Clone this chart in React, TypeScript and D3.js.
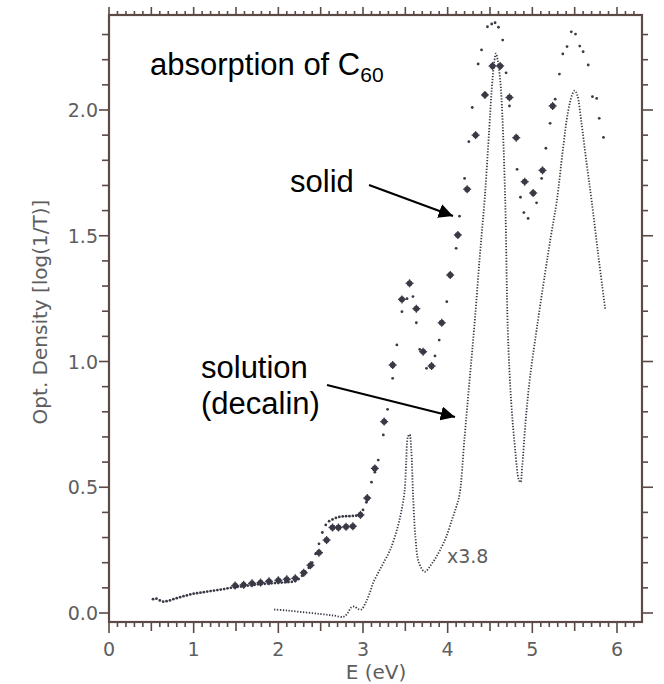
import React from 'react';
import * as d3 from 'd3';

// solution (decalin) spectrum, scaled x3.8: [E (eV), OD]
const solutionCurve: [number, number][] = [
  [1.95, 0.014], [2.1, 0.01], [2.3, 0.003], [2.5, -0.004], [2.65, -0.01], [2.77, -0.015],
  [2.82, 0.0], [2.86, 0.022], [2.9, 0.026], [2.94, 0.016], [2.98, 0.014], [3.03, 0.04],
  [3.08, 0.08], [3.12, 0.12], [3.18, 0.16], [3.24, 0.198], [3.32, 0.25], [3.4, 0.33],
  [3.45, 0.4], [3.49, 0.48], [3.51, 0.6], [3.53, 0.7], [3.55, 0.71], [3.57, 0.65],
  [3.59, 0.48], [3.62, 0.3], [3.66, 0.2], [3.73, 0.164], [3.8, 0.19], [3.86, 0.22],
  [3.91, 0.25], [3.98, 0.3], [4.05, 0.37], [4.1, 0.42], [4.14, 0.47], [4.2, 0.7],
  [4.26, 0.93], [4.32, 1.16], [4.38, 1.42], [4.44, 1.66], [4.49, 1.92], [4.52, 2.08],
  [4.55, 2.19], [4.57, 2.225], [4.59, 2.2], [4.62, 2.12], [4.64, 2.02], [4.68, 1.64],
  [4.71, 1.13], [4.75, 0.84], [4.8, 0.64], [4.84, 0.53], [4.86, 0.52], [4.88, 0.58],
  [4.92, 0.76], [4.97, 0.93], [5.05, 1.125], [5.15, 1.35], [5.22, 1.5], [5.29, 1.64],
  [5.36, 1.84], [5.42, 1.99], [5.47, 2.06], [5.5, 2.077], [5.53, 2.06], [5.58, 1.95],
  [5.64, 1.79], [5.7, 1.64], [5.78, 1.42], [5.86, 1.21],
];

// solid film, fine sampling (small dots)
const solidFine: [number, number][] = [
  [0.52, 0.055], [0.56, 0.057], [0.6, 0.05], [0.64, 0.045], [0.68, 0.047], [0.72, 0.05],
  [0.76, 0.055], [0.8, 0.059], [0.84, 0.063], [0.88, 0.067], [0.92, 0.07], [0.96, 0.074],
  [1.0, 0.077], [1.04, 0.079], [1.08, 0.081], [1.12, 0.083], [1.16, 0.085], [1.2, 0.087],
  [1.24, 0.089], [1.28, 0.091], [1.32, 0.093], [1.36, 0.095], [1.4, 0.098], [1.44, 0.1],
  [1.48, 0.102], [1.52, 0.104], [1.56, 0.105], [1.6, 0.107], [1.64, 0.109], [1.68, 0.11],
  [1.72, 0.112], [1.76, 0.114], [1.8, 0.115], [1.84, 0.116], [1.88, 0.117], [1.92, 0.118],
  [1.96, 0.119], [2.0, 0.12], [2.04, 0.121], [2.08, 0.122], [2.12, 0.123], [2.16, 0.124],
  [2.2, 0.127], [2.24, 0.135], [2.28, 0.148], [2.32, 0.163], [2.36, 0.18], [2.4, 0.2],
  [2.44, 0.235], [2.48, 0.275], [2.52, 0.32], [2.56, 0.35], [2.6, 0.365], [2.64, 0.372],
  [2.68, 0.378], [2.72, 0.382], [2.76, 0.384], [2.8, 0.385], [2.84, 0.385], [2.88, 0.386],
  [2.92, 0.387], [2.96, 0.39], [3.0, 0.41], [3.04, 0.44], [3.1, 0.52], [3.14, 0.56],
  [3.18, 0.608], [3.24, 0.708], [3.29, 0.81], [3.35, 0.933], [3.4, 1.066], [3.46, 1.198],
  [3.52, 1.25], [3.59, 1.258], [3.63, 1.154], [3.67, 1.048], [3.75, 0.973], [3.85, 1.022],
  [3.9, 1.085], [3.99, 1.238], [4.03, 1.35], [4.1, 1.45], [4.14, 1.578], [4.2, 1.728],
  [4.25, 1.874], [4.29, 2.01], [4.36, 2.183], [4.4, 2.239], [4.47, 2.331], [4.52, 2.342],
  [4.56, 2.347], [4.6, 2.329], [4.65, 2.278], [4.69, 2.148], [4.73, 2.016], [4.82, 1.764],
  [4.86, 1.653], [4.9, 1.592], [4.95, 1.569], [5.05, 1.631], [5.11, 1.728], [5.16, 1.848],
  [5.21, 1.947], [5.27, 2.043], [5.32, 2.143], [5.36, 2.223], [5.41, 2.252], [5.46, 2.311],
  [5.51, 2.302], [5.56, 2.254], [5.6, 2.232], [5.66, 2.179], [5.71, 2.053], [5.76, 2.046],
  [5.79, 1.967], [5.84, 1.891],
];

// solid film, coarse sampling (bold markers)
const solidBold: [number, number][] = [
  [1.49, 0.109], [1.59, 0.112], [1.69, 0.118], [1.79, 0.121], [1.89, 0.126], [2.0, 0.13],
  [2.1, 0.134], [2.2, 0.138], [2.3, 0.16], [2.38, 0.19], [2.48, 0.24], [2.57, 0.29],
  [2.64, 0.34], [2.71, 0.34], [2.8, 0.343], [2.88, 0.345], [2.97, 0.39], [3.05, 0.457],
  [3.14, 0.575], [3.25, 0.761], [3.35, 0.986], [3.46, 1.247], [3.55, 1.311], [3.63, 1.21],
  [3.71, 1.039], [3.81, 0.982], [3.93, 1.154], [4.03, 1.344], [4.12, 1.503], [4.23, 1.685],
  [4.33, 1.9], [4.44, 2.06], [4.53, 2.175], [4.62, 2.175], [4.73, 2.05], [4.81, 1.89],
  [4.91, 1.715], [5.01, 1.67], [5.12, 1.76], [5.24, 2.016],
];

const xTickLabels = [0, 1, 2, 3, 4, 5, 6];
const yTickLabels = [0, 0.5, 1.0, 1.5, 2.0];

const W = 664;
const H = 684;
const frame = { left: 109, right: 642, top: 15, bottom: 622 };
const axisColor = '#5c4a46';
const labelColor = '#5e5e5e';
const dotColor = '#3a3a46';

export default function App() {
  const x = d3.scaleLinear().domain([0, 6]).range([109, 617]);
  const y = d3.scaleLinear().domain([0, 2]).range([613, 110]);

  const line = d3.line<[number, number]>()
    .x(d => x(d[0]))
    .y(d => y(d[1]))
    .curve(d3.curveCatmullRom.alpha(0.5));

  const xMinor = d3.range(0, 63).map(i => i / 10);
  const yMinor = d3.range(0, 24).map(i => i / 10);

  const xTickLen = (v: number) => {
    const k = Math.round(v * 10);
    if (k % 10 === 0) return 11;
    if (k % 5 === 0) return 9;
    return 5;
  };
  const yIsMajor = (v: number) => Math.round(v * 10) % 5 === 0;

  return (
    <svg width={W} height={H} style={{ position: 'absolute', left: 0, top: 0, background: '#fff' }}>
      <defs>
        <marker id="arrow" viewBox="0 0 10 10" refX="10" refY="5" markerWidth="6.5" markerHeight="6.5"
          markerUnits="strokeWidth" orient="auto">
          <path d="M0,0 L10,5 L0,10 z" fill="#000" />
        </marker>
      </defs>

      {/* ticks */}
      <g stroke={axisColor} strokeWidth={1.6}>
        {xMinor.map(v => (
          <line key={'b' + v} x1={x(v)} x2={x(v)} y1={frame.bottom} y2={frame.bottom + xTickLen(v)} />
        ))}
        {xMinor.map(v => (
          <line key={'t' + v} x1={x(v)} x2={x(v)} y1={frame.top} y2={frame.top - (xTickLen(v) > 5 ? 8 : 4)} />
        ))}
        {yMinor.map(v => (
          <line key={'l' + v} x1={frame.left} x2={frame.left - (yIsMajor(v) ? 10 : 7)} y1={y(v)} y2={y(v)} />
        ))}
        {yMinor.map(v => (
          <line key={'r' + v} x1={frame.right} x2={frame.right + (yIsMajor(v) ? 11 : 6)} y1={y(v)} y2={y(v)} />
        ))}
      </g>

      <rect x={frame.left} y={frame.top} width={frame.right - frame.left} height={frame.bottom - frame.top}
        fill="none" stroke={axisColor} strokeWidth={2.2} />

      {/* tick labels */}
      <g fill={labelColor} fontFamily="DejaVu Sans" fontSize={19}>
        {xTickLabels.map(v => (
          <text key={v} x={x(v)} y={656} textAnchor="middle">{v}</text>
        ))}
        {yTickLabels.map(v => (
          <text key={v} x={98} y={y(v) + 7} textAnchor="end">{v.toFixed(1)}</text>
        ))}
      </g>

      <text x={376} y={679} textAnchor="middle" fill={labelColor} fontFamily="DejaVu Sans" fontSize={20}>E (eV)</text>
      <text transform="translate(47,312) rotate(-90)" textAnchor="middle" fill={labelColor}
        fontFamily="DejaVu Sans" fontSize={20}>Opt. Density [log(1/T)]</text>

      {/* solution curve, dotted */}
      <path d={line(solutionCurve) ?? ''} fill="none" stroke={dotColor} strokeWidth={1.8}
        strokeDasharray="1.3 1.6" />

      {/* solid, fine dots */}
      <g fill={dotColor}>
        {solidFine.map((d, i) => (
          <circle key={i} cx={x(d[0])} cy={y(d[1])} r={1.4} />
        ))}
      </g>

      {/* solid, bold markers */}
      <g fill={dotColor} stroke={dotColor} strokeWidth={1.3}>
        {solidBold.map((d, i) => (
          <g key={i} transform={`translate(${x(d[0])},${y(d[1])})`}>
            <circle r={2.4} />
            <line x1={-4} x2={4} y1={0} y2={0} />
            <line x1={0} x2={0} y1={-4} y2={4} />
          </g>
        ))}
      </g>

      <text x={447} y={563} fill={labelColor} fontFamily="DejaVu Sans" fontSize={19}>x3.8</text>

      {/* annotations */}
      <g fontFamily="Liberation Sans, Arial, sans-serif" fill="#000">
        <text x={150} y={75} fontSize={31}>
          absorption of C<tspan fontSize={21} dy={7}>60</tspan>
        </text>
        <text x={290} y={192} fontSize={31}>solid</text>
        <text x={201} y={378} fontSize={31}>solution</text>
        <text x={201} y={414} fontSize={31}>(decalin)</text>
      </g>
      <line x1={369} y1={185} x2={453} y2={216} stroke="#000" strokeWidth={2.2} markerEnd="url(#arrow)" />
      <line x1={327} y1={385} x2={455} y2={417} stroke="#000" strokeWidth={2.2} markerEnd="url(#arrow)" />
    </svg>
  );
}
